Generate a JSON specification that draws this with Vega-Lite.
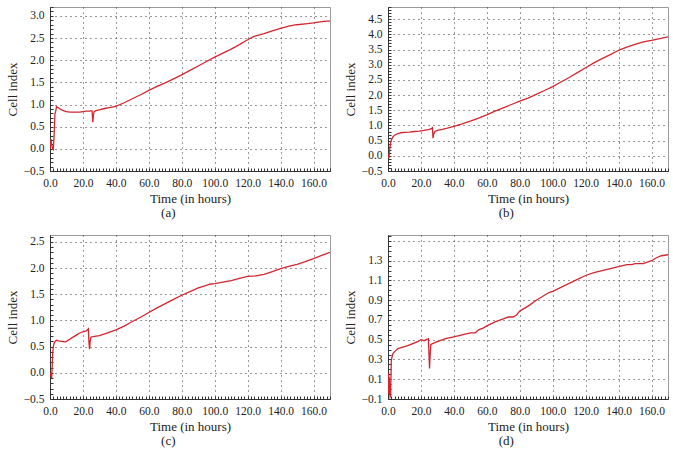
{
  "$schema": "https://vega.github.io/schema/vega-lite/v6.json",
  "padding": {"left": 5, "top": 0, "right": 0, "bottom": 0},
  "columns": 2,
  "spacing": {"row": 9, "column": 12},
  "datasets": {
    "a": [
      {"t": 0, "ci": 0.0}, {"t": 0.3, "ci": 0.15}, {"t": 0.6, "ci": 0.22}, {"t": 1.0, "ci": 0.1}, {"t": 1.5, "ci": 0.0},
      {"t": 2.0, "ci": -0.02}, {"t": 2.5, "ci": 0.3}, {"t": 3.0, "ci": 0.8}, {"t": 3.3, "ci": 0.82}, {"t": 4.0, "ci": 0.95},
      {"t": 5.0, "ci": 0.93}, {"t": 6.0, "ci": 0.9}, {"t": 8.0, "ci": 0.86}, {"t": 10, "ci": 0.84}, {"t": 12, "ci": 0.83},
      {"t": 15, "ci": 0.83}, {"t": 18, "ci": 0.83}, {"t": 20, "ci": 0.84}, {"t": 22, "ci": 0.85}, {"t": 24, "ci": 0.85},
      {"t": 25.5, "ci": 0.86}, {"t": 25.8, "ci": 0.72}, {"t": 26.0, "ci": 0.6}, {"t": 26.3, "ci": 0.75}, {"t": 26.8, "ci": 0.84},
      {"t": 28, "ci": 0.86}, {"t": 30, "ci": 0.88}, {"t": 33, "ci": 0.91}, {"t": 36, "ci": 0.93}, {"t": 40, "ci": 0.96},
      {"t": 45, "ci": 1.04}, {"t": 50, "ci": 1.13}, {"t": 55, "ci": 1.22}, {"t": 60, "ci": 1.32}, {"t": 65, "ci": 1.41},
      {"t": 70, "ci": 1.49}, {"t": 75, "ci": 1.58}, {"t": 80, "ci": 1.67}, {"t": 85, "ci": 1.77}, {"t": 90, "ci": 1.87},
      {"t": 95, "ci": 1.97}, {"t": 100, "ci": 2.07}, {"t": 105, "ci": 2.16}, {"t": 110, "ci": 2.25}, {"t": 115, "ci": 2.35},
      {"t": 120, "ci": 2.46}, {"t": 123, "ci": 2.52}, {"t": 125, "ci": 2.55}, {"t": 130, "ci": 2.6}, {"t": 135, "ci": 2.66},
      {"t": 140, "ci": 2.72}, {"t": 145, "ci": 2.77}, {"t": 148, "ci": 2.79}, {"t": 150, "ci": 2.8}, {"t": 155, "ci": 2.82},
      {"t": 160, "ci": 2.84}, {"t": 165, "ci": 2.87}, {"t": 168, "ci": 2.88}, {"t": 170, "ci": 2.88}
    ],
    "b": [
      {"t": 0, "ci": -0.05}, {"t": 0.3, "ci": 0.0}, {"t": 0.6, "ci": -0.08}, {"t": 1.0, "ci": 0.2}, {"t": 1.5, "ci": 0.4},
      {"t": 2.0, "ci": 0.52}, {"t": 3.0, "ci": 0.62}, {"t": 4.0, "ci": 0.68}, {"t": 5.0, "ci": 0.71}, {"t": 6, "ci": 0.73},
      {"t": 8, "ci": 0.76}, {"t": 10, "ci": 0.77}, {"t": 13, "ci": 0.78}, {"t": 16, "ci": 0.8}, {"t": 19, "ci": 0.81},
      {"t": 22, "ci": 0.84}, {"t": 25, "ci": 0.87}, {"t": 26.8, "ci": 0.9}, {"t": 27.0, "ci": 0.95}, {"t": 27.3, "ci": 0.58},
      {"t": 27.8, "ci": 0.72}, {"t": 28.5, "ci": 0.8}, {"t": 30, "ci": 0.84}, {"t": 33, "ci": 0.87}, {"t": 36, "ci": 0.91},
      {"t": 40, "ci": 0.97}, {"t": 45, "ci": 1.05}, {"t": 50, "ci": 1.14}, {"t": 55, "ci": 1.24}, {"t": 60, "ci": 1.35},
      {"t": 65, "ci": 1.47}, {"t": 70, "ci": 1.58}, {"t": 75, "ci": 1.69}, {"t": 80, "ci": 1.8}, {"t": 85, "ci": 1.9},
      {"t": 89, "ci": 2.0}, {"t": 95, "ci": 2.15}, {"t": 100, "ci": 2.28}, {"t": 105, "ci": 2.43}, {"t": 110, "ci": 2.58},
      {"t": 115, "ci": 2.74}, {"t": 120, "ci": 2.9}, {"t": 125, "ci": 3.06}, {"t": 130, "ci": 3.2}, {"t": 135, "ci": 3.33},
      {"t": 141, "ci": 3.5}, {"t": 145, "ci": 3.58}, {"t": 150, "ci": 3.67}, {"t": 155, "ci": 3.75}, {"t": 160, "ci": 3.8},
      {"t": 165, "ci": 3.86}, {"t": 170, "ci": 3.92}
    ],
    "c": [
      {"t": 0, "ci": 0.0}, {"t": 0.5, "ci": -0.05}, {"t": 1.0, "ci": -0.1}, {"t": 1.3, "ci": 0.1}, {"t": 1.6, "ci": 0.35},
      {"t": 2.0, "ci": 0.5}, {"t": 2.5, "ci": 0.56}, {"t": 3.0, "ci": 0.6}, {"t": 4.0, "ci": 0.62}, {"t": 5, "ci": 0.61},
      {"t": 7, "ci": 0.6}, {"t": 9, "ci": 0.59}, {"t": 10, "ci": 0.6}, {"t": 12, "ci": 0.64}, {"t": 14, "ci": 0.68},
      {"t": 16, "ci": 0.72}, {"t": 18, "ci": 0.76}, {"t": 20, "ci": 0.78}, {"t": 22, "ci": 0.8}, {"t": 23.3, "ci": 0.84},
      {"t": 23.6, "ci": 0.6}, {"t": 24.0, "ci": 0.45}, {"t": 24.4, "ci": 0.6}, {"t": 24.8, "ci": 0.68}, {"t": 26, "ci": 0.69},
      {"t": 30, "ci": 0.71}, {"t": 35, "ci": 0.76}, {"t": 40, "ci": 0.82}, {"t": 45, "ci": 0.89}, {"t": 50, "ci": 0.98},
      {"t": 55, "ci": 1.06}, {"t": 60, "ci": 1.15}, {"t": 65, "ci": 1.24}, {"t": 70, "ci": 1.32}, {"t": 75, "ci": 1.4},
      {"t": 80, "ci": 1.48}, {"t": 85, "ci": 1.55}, {"t": 90, "ci": 1.62}, {"t": 95, "ci": 1.67}, {"t": 97, "ci": 1.69},
      {"t": 100, "ci": 1.7}, {"t": 105, "ci": 1.73}, {"t": 110, "ci": 1.76}, {"t": 115, "ci": 1.8}, {"t": 120, "ci": 1.84},
      {"t": 125, "ci": 1.85}, {"t": 130, "ci": 1.88}, {"t": 135, "ci": 1.93}, {"t": 140, "ci": 1.99}, {"t": 145, "ci": 2.03},
      {"t": 150, "ci": 2.07}, {"t": 155, "ci": 2.12}, {"t": 160, "ci": 2.18}, {"t": 165, "ci": 2.24}, {"t": 170, "ci": 2.3}
    ],
    "d": [
      {"t": 0, "ci": -0.05}, {"t": 0.2, "ci": 0.1}, {"t": 0.4, "ci": 0.16}, {"t": 0.6, "ci": -0.05}, {"t": 0.8, "ci": 0.12},
      {"t": 1.0, "ci": -0.02}, {"t": 1.3, "ci": -0.08}, {"t": 1.6, "ci": -0.07}, {"t": 2.0, "ci": 0.29}, {"t": 2.5, "ci": 0.33},
      {"t": 3.0, "ci": 0.36}, {"t": 4.0, "ci": 0.38}, {"t": 6, "ci": 0.41}, {"t": 8, "ci": 0.42}, {"t": 10, "ci": 0.43},
      {"t": 12, "ci": 0.44}, {"t": 15, "ci": 0.46}, {"t": 18, "ci": 0.48}, {"t": 20, "ci": 0.5}, {"t": 22, "ci": 0.49},
      {"t": 24.5, "ci": 0.51}, {"t": 24.9, "ci": 0.35}, {"t": 25.2, "ci": 0.21}, {"t": 25.6, "ci": 0.35}, {"t": 26.0, "ci": 0.45},
      {"t": 27, "ci": 0.46}, {"t": 30, "ci": 0.48}, {"t": 35, "ci": 0.51}, {"t": 40, "ci": 0.53}, {"t": 45, "ci": 0.55},
      {"t": 50, "ci": 0.57}, {"t": 53, "ci": 0.57}, {"t": 55, "ci": 0.6}, {"t": 58, "ci": 0.62}, {"t": 60, "ci": 0.64},
      {"t": 65, "ci": 0.68}, {"t": 70, "ci": 0.71}, {"t": 73, "ci": 0.73}, {"t": 76, "ci": 0.73}, {"t": 78, "ci": 0.75},
      {"t": 80, "ci": 0.79}, {"t": 83, "ci": 0.82}, {"t": 86, "ci": 0.85}, {"t": 90, "ci": 0.9}, {"t": 95, "ci": 0.95},
      {"t": 98, "ci": 0.98}, {"t": 100, "ci": 0.99}, {"t": 105, "ci": 1.03}, {"t": 110, "ci": 1.07}, {"t": 115, "ci": 1.11},
      {"t": 120, "ci": 1.15}, {"t": 125, "ci": 1.18}, {"t": 130, "ci": 1.2}, {"t": 135, "ci": 1.22}, {"t": 140, "ci": 1.24},
      {"t": 145, "ci": 1.26}, {"t": 148, "ci": 1.26}, {"t": 150, "ci": 1.27}, {"t": 155, "ci": 1.27}, {"t": 160, "ci": 1.3},
      {"t": 163, "ci": 1.33}, {"t": 166, "ci": 1.35}, {"t": 170, "ci": 1.36}
    ]
  },
  "concat": [
    {
      "width": 280, "height": 164,
      "data": {"name": "a"},
      "title": {"text": "(a)"},
      "mark": {"type": "line", "color": "#d4252f", "strokeWidth": 1.3, "clip": true},
      "encoding": {
        "x": {"field": "t", "type": "quantitative", "title": "Time (in hours)",
          "scale": {"domain": [0, 170], "nice": false, "zero": false},
          "axis": {"tickCount": 85, "format": ".1f",
            "labelExpr": "abs(datum.value/20 - round(datum.value/20)) < 1e-6 ? datum.label : ''",
            "gridOpacity": {"condition": {"test": "abs(datum.value/20 - round(datum.value/20)) < 1e-6", "value": 1}, "value": 0}}},
        "y": {"field": "ci", "type": "quantitative", "title": "Cell index",
          "scale": {"domain": [-0.5, 3.2], "nice": false, "zero": false},
          "axis": {"tickCount": 37, "format": ".1f",
            "labelExpr": "abs(datum.value*2 - round(datum.value*2)) < 1e-6 ? datum.label : ''",
            "gridOpacity": {"condition": {"test": "abs(datum.value*2 - round(datum.value*2)) < 1e-6", "value": 1}, "value": 0}}}
      }
    },
    {
      "width": 280, "height": 164,
      "data": {"name": "b"},
      "title": {"text": "(b)"},
      "mark": {"type": "line", "color": "#d4252f", "strokeWidth": 1.3, "clip": true},
      "encoding": {
        "x": {"field": "t", "type": "quantitative", "title": "Time (in hours)",
          "scale": {"domain": [0, 170], "nice": false, "zero": false},
          "axis": {"tickCount": 85, "format": ".1f",
            "labelExpr": "abs(datum.value/20 - round(datum.value/20)) < 1e-6 ? datum.label : ''",
            "gridOpacity": {"condition": {"test": "abs(datum.value/20 - round(datum.value/20)) < 1e-6", "value": 1}, "value": 0}}},
        "y": {"field": "ci", "type": "quantitative", "title": "Cell index",
          "scale": {"domain": [-0.5, 4.9], "nice": false, "zero": false},
          "axis": {"tickCount": 54, "format": ".1f",
            "labelExpr": "abs(datum.value*2 - round(datum.value*2)) < 1e-6 ? datum.label : ''",
            "gridOpacity": {"condition": {"test": "abs(datum.value*2 - round(datum.value*2)) < 1e-6", "value": 1}, "value": 0}}}
      }
    },
    {
      "width": 280, "height": 164,
      "data": {"name": "c"},
      "title": {"text": "(c)"},
      "mark": {"type": "line", "color": "#d4252f", "strokeWidth": 1.3, "clip": true},
      "encoding": {
        "x": {"field": "t", "type": "quantitative", "title": "Time (in hours)",
          "scale": {"domain": [0, 170], "nice": false, "zero": false},
          "axis": {"tickCount": 85, "format": ".1f",
            "labelExpr": "abs(datum.value/20 - round(datum.value/20)) < 1e-6 ? datum.label : ''",
            "gridOpacity": {"condition": {"test": "abs(datum.value/20 - round(datum.value/20)) < 1e-6", "value": 1}, "value": 0}}},
        "y": {"field": "ci", "type": "quantitative", "title": "Cell index",
          "scale": {"domain": [-0.5, 2.63], "nice": false, "zero": false},
          "axis": {"tickCount": 31, "format": ".1f",
            "labelExpr": "abs(datum.value*2 - round(datum.value*2)) < 1e-6 ? datum.label : ''",
            "gridOpacity": {"condition": {"test": "abs(datum.value*2 - round(datum.value*2)) < 1e-6", "value": 1}, "value": 0}}}
      }
    },
    {
      "width": 280, "height": 164,
      "data": {"name": "d"},
      "title": {"text": "(d)"},
      "mark": {"type": "line", "color": "#d4252f", "strokeWidth": 1.3, "clip": true},
      "encoding": {
        "x": {"field": "t", "type": "quantitative", "title": "Time (in hours)",
          "scale": {"domain": [0, 170], "nice": false, "zero": false},
          "axis": {"tickCount": 85, "format": ".1f",
            "labelExpr": "abs(datum.value/20 - round(datum.value/20)) < 1e-6 ? datum.label : ''",
            "gridOpacity": {"condition": {"test": "abs(datum.value/20 - round(datum.value/20)) < 1e-6", "value": 1}, "value": 0}}},
        "y": {"field": "ci", "type": "quantitative", "title": "Cell index",
          "scale": {"domain": [-0.1, 1.56], "nice": false, "zero": false},
          "axis": {"tickCount": 33, "format": ".1f",
            "labelExpr": "abs((datum.value+0.1)*5 - round((datum.value+0.1)*5)) < 1e-6 && datum.value < 1.4 ? datum.label : ''",
            "gridOpacity": {"condition": {"test": "abs((datum.value+0.1)*5 - round((datum.value+0.1)*5)) < 1e-6", "value": 1}, "value": 0}}}
      }
    }
  ],
  "config": {
    "font": "'Liberation Serif', 'Times New Roman', Times, serif",
    "view": {"stroke": "#9a9a9a", "strokeWidth": 1},
    "title": {"orient": "bottom", "frame": "bounds", "anchor": "middle", "font": "'Liberation Serif', 'Times New Roman', Times, serif", "fontSize": 13, "fontWeight": "normal", "color": "#222", "offset": 1},
    "axis": {
      "labelFont": "'Liberation Serif', 'Times New Roman', Times, serif", "labelFontSize": 11.5, "labelColor": "#222",
      "titleFont": "'Liberation Serif', 'Times New Roman', Times, serif", "titleFontSize": 13, "titleFontWeight": "normal", "titleColor": "#222",
      "domainColor": "#333", "tickColor": "#333", "tickSize": -3, "tickWidth": 1,
      "gridColor": "#333", "gridDash": [1, 4], "gridWidth": 1,
      "labelOverlap": false, "labelFlush": false, "labelBound": false
    },
    "axisX": {"labelPadding": 9, "titlePadding": 4},
    "axisY": {"labelPadding": 9, "titlePadding": 4}
  }
}
